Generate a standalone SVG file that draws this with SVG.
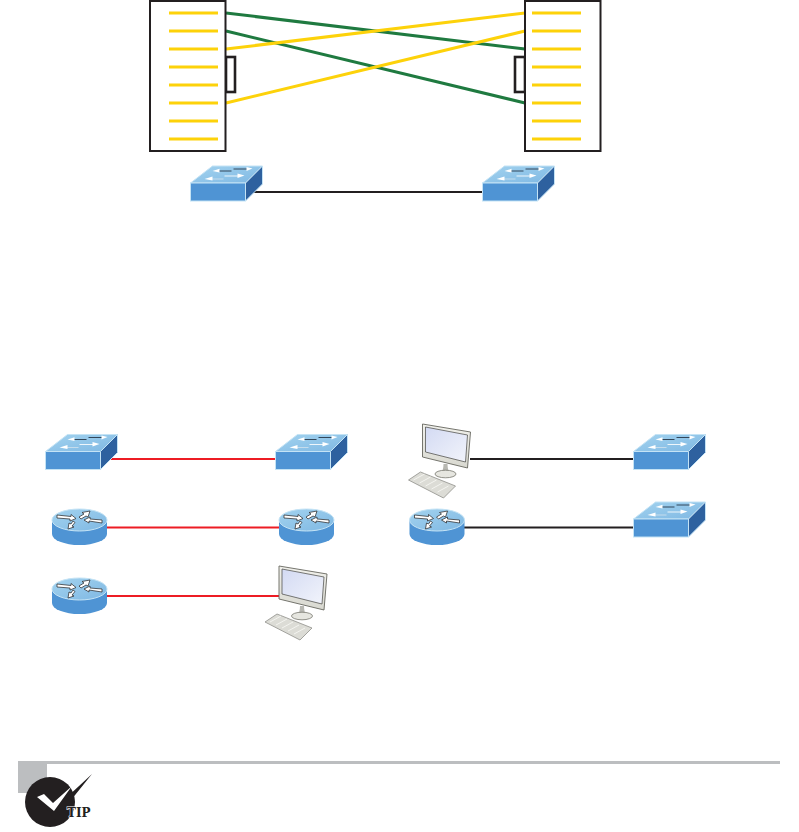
<svg xmlns="http://www.w3.org/2000/svg" width="799" height="832" viewBox="0 0 799 832">
<style>
.box{fill:#fff;stroke:#231f20;stroke-width:2}
.notch{fill:#fff;stroke:#231f20;stroke-width:2.600}
.slot{stroke:#fdd20a;stroke-width:3;fill:none}
.g{stroke:#1f7a40;stroke-width:3;fill:none}
.y{stroke:#fdd20a;stroke-width:3;fill:none}
.k{stroke:#231f20;stroke-width:2;fill:none}
.r{stroke:#ed1c24;stroke-width:2;fill:none}
.tip{font-family:"DejaVu Serif",serif;font-weight:bold;font-size:12px;fill:#231f20;stroke:#fff;stroke-width:1px;paint-order:stroke}
</style>
<defs>
<linearGradient id="top" x1="0" y1="0" x2="1" y2="1"><stop offset="0" stop-color="#a3d3ef"/><stop offset="1" stop-color="#7fb8e3"/></linearGradient>
<linearGradient id="screen" x1="0" y1="0" x2="1" y2="1"><stop offset="0" stop-color="#d3daf3"/><stop offset="1" stop-color="#f2f4fb"/></linearGradient>
<linearGradient id="bezel" x1="0" y1="0" x2="0" y2="1"><stop offset="0" stop-color="#f1f1ec"/><stop offset="1" stop-color="#d8d8d0"/></linearGradient>
<g id="switch">
<polygon points="22,0 72,0 55,17 0,17" fill="url(#top)" stroke="#c4e3f5" stroke-width="1"/>
<rect x="0" y="17" width="55" height="18" fill="#4f94d4" stroke="#c4e3f5" stroke-width="1"/>
<polygon points="55,17 72,0 72,18 55,35" fill="#2e619f" stroke="#c4e3f5" stroke-width="1"/>
<g fill="none" stroke-width="1">
<path d="M27,5H41" stroke="#33475a"/><path d="M43,3H57" stroke="#33475a"/>
<path d="M20,13H33" stroke="#c5dcec"/><path d="M34,10H48" stroke="#eef6fb"/>
</g>
<g fill="#fff">
<polygon points="22,5 29,2.800 29,6.500"/><polygon points="62,2.500 56,1 56,5"/>
<polygon points="14,13 22,10.500 22,14.500"/><polygon points="54,9.500 47,7.500 47,12"/>
</g>
</g>
<g id="router">
<path d="M0,11V25A27.500,11 0 0 0 55,25V11Z" fill="#4f94d4"/>
<ellipse cx="27.500" cy="11" rx="27.500" ry="11" fill="url(#top)" stroke="#c4e3f5" stroke-width="1"/>
<g fill="#fff" stroke="#231f20" stroke-width="0.700">
<polygon points="5,6 19,7.500 19,5.500 24,9.500 18,12 18,10 5,9"/>
<polygon points="50,14 37,12 37,14 32,11 38,8 38,10 50,11"/>
<polygon points="27,8 32,5 30,3.500 38,2 36,8 34,7 29,10"/>
<polygon points="23,13.500 20,17 22,18 16,20 17,14 19,15 21,12"/>
</g>
</g>
<g id="pc">
<polygon points="10,62 22,54 57,68 45,80" fill="#dcdcd6" stroke="#8f8f8a" stroke-width="0.800"/>
<path d="M15,62L26,56M21,65L32,59M27,68L38,62M33,71L44,65M39,74L50,68" stroke="#f4f4f0" stroke-width="1" fill="none"/>
<path d="M49,46C49,50 50,54 52,57H42C44,54 45,50 45,46Z" fill="#b8b8b2"/>
<ellipse cx="47" cy="56" rx="10.500" ry="3.800" fill="#e6e6e0" stroke="#77776f" stroke-width="0.800"/>
<polygon points="24,6 72,14 69,50 24,39" fill="url(#bezel)" stroke="#66665f" stroke-width="0.900"/>
<polygon points="27,9 69,17 67,44 27,34" fill="url(#screen)" stroke="#44443f" stroke-width="0.700"/>
</g>
</defs>

<g id="connectors">
<path class="k" d="M253,192H482"/>
<path class="g" d="M226,13L525,49"/>
<path class="g" d="M226,31L525,103"/>
<path class="y" d="M226,49L525,13"/>
<path class="y" d="M226,103L525,31"/>
<path class="r" d="M108,459H275"/>
<path class="r" d="M107,527.500H279"/>
<path class="r" d="M107,596H279"/>
<path class="k" d="M470,459H633"/>
<path class="k" d="M463,527.500H633"/>
</g>

<g id="panel-left">
<rect class="notch" x="226" y="57" width="9" height="35"/>
<rect class="box" x="150" y="1" width="75.500" height="150"/>
<path class="slot" d="M169,13H218M169,31H218M169,49H218M169,67H218M169,85H218M169,103H218M169,121H218M169,139H218"/>
</g>
<g id="panel-right">
<rect class="notch" x="515" y="57" width="10" height="35"/>
<rect class="box" x="525" y="1" width="75.500" height="150"/>
<path class="slot" d="M532,13H581M532,31H581M532,49H581M532,67H581M532,85H581M532,103H581M532,121H581M532,139H581"/>
</g>
<g id="switch-top-left"><use href="#switch" x="190.500" y="166"/></g>
<g id="switch-top-right"><use href="#switch" x="482.500" y="166"/></g>
<g id="switch-a"><use href="#switch" x="45.500" y="434.500"/></g>
<g id="switch-b"><use href="#switch" x="275.500" y="434.500"/></g>
<g id="switch-c"><use href="#switch" x="633.500" y="434.500"/></g>
<g id="switch-d"><use href="#switch" x="633.500" y="502"/></g>
<g id="router-a"><use href="#router" x="52" y="509"/></g>
<g id="router-b"><use href="#router" x="279" y="509"/></g>
<g id="router-c"><use href="#router" x="52" y="578"/></g>
<g id="router-d"><use href="#router" x="409.500" y="509"/></g>
<g id="pc-a"><use href="#pc" x="255" y="560"/></g>
<g id="pc-b"><use href="#pc" x="398.500" y="418"/></g>

<g id="tip">
<path d="M18,761H780V764H47V793H18Z" fill="#bcbec0"/>
<circle cx="50" cy="802" r="25" fill="#231f20"/>
<polygon points="37,797 53,810 92,774 55,820" fill="#231f20"/>
<polygon points="37,797 44,794 53,803 72,786 54,811" fill="#fff"/>
<text class="tip" x="67" y="816.500">TIP</text>
</g>
</svg>
